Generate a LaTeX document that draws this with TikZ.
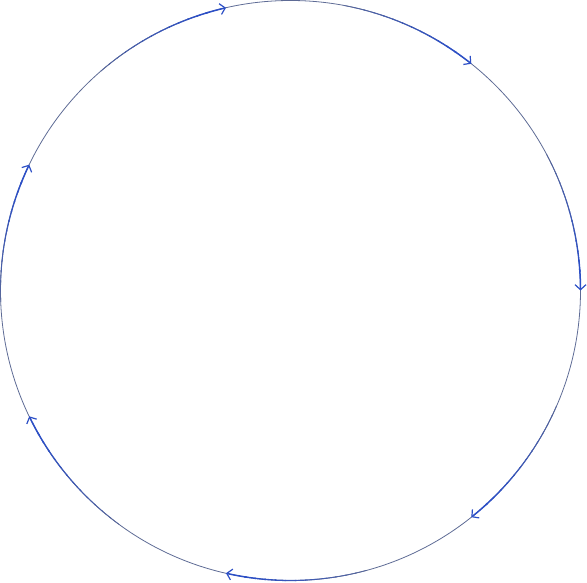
\documentclass[tikz,border=0pt]{standalone}
\usetikzlibrary{arrows.meta}
\definecolor{ringgray}{HTML}{5E6B95}
\definecolor{arcblue}{HTML}{2C4FC6}
\tikzset{
  ring/.style={draw=ringgray, line width=0.8pt},
  tipline/.style={arcblue, line width=1.5pt, -{Straight Barb[length=5pt,width=11pt,line width=1.2pt]}}
}
\begin{document}
\begin{tikzpicture}[x=1pt,y=1pt]
\useasboundingbox (0,0) rectangle (587,582);
\coordinate (c) at (290.5,291.5);
\draw[ring] (c) circle[radius=290];
\foreach \i in {0,...,6} {
  \pgfmathsetmacro{\a}{-\i*360/7}
  \foreach \k in {0,...,11} {
    \pgfmathsetmacro{\p}{100*((\k+1)/12)^0.8}
    \pgfmathsetmacro{\s}{\a+28-2*\k}
    \pgfmathsetmacro{\e}{\s-2.3}
    \pgfmathsetmacro{\w}{0.8+0.06*\k}
    \draw[color=arcblue!\p!ringgray, line width=\w pt]
      ([shift={(\s:290)}]c) arc[start angle=\s, end angle=\e, radius=290];
  }
  \pgfmathsetmacro{\b}{\a+4.2}
  \draw[tipline] ([shift={(\b:290)}]c) arc[start angle=\b, end angle=\a, radius=290];
}
\end{tikzpicture}
\end{document}
